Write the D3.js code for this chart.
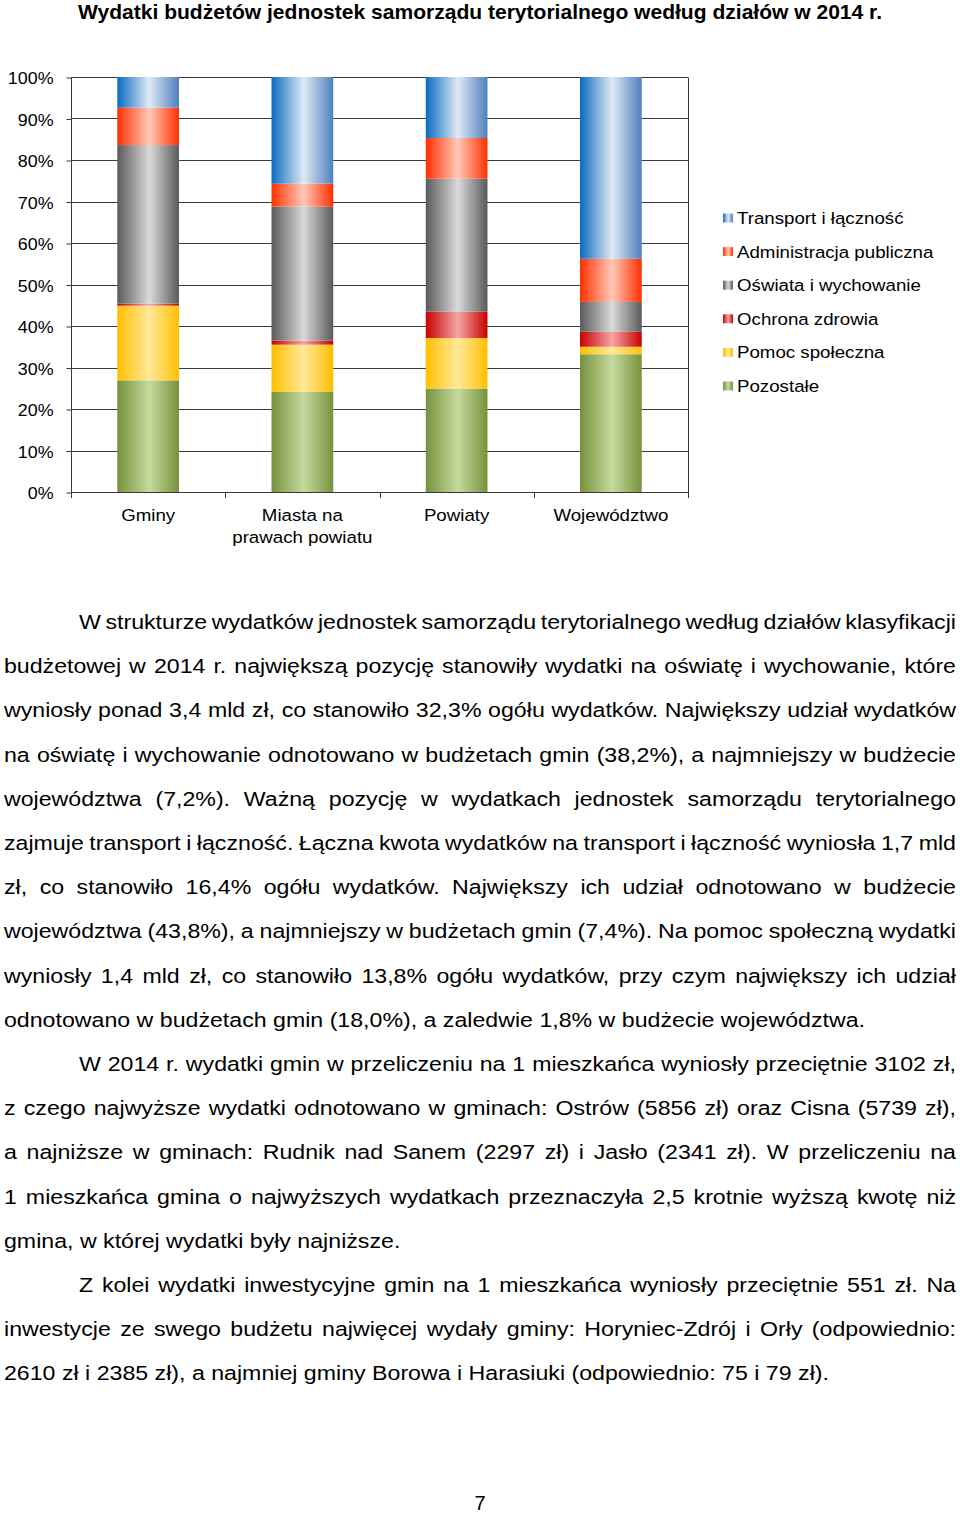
<!DOCTYPE html>
<html>
<head>
<meta charset="utf-8">
<script src="https://cdn.jsdelivr.net/npm/d3@7"></script>
<style>
  html, body { margin: 0; padding: 0; background: #fff; }
  svg { display: block; }
</style>
</head>
<body>
<svg id="page" width="960" height="1513"></svg>
<script>
// ---------------- DATA ----------------
const titleText = "Wydatki budżetów jednostek samorządu terytorialnego według działów w 2014 r.";
const categories = ["Gminy", "Miasta na prawach powiatu", "Powiaty", "Województwo"];
const categoryLabelLines = [["Gminy"], ["Miasta na", "prawach powiatu"], ["Powiaty"], ["Województwo"]];
const seriesNames = ["Pozostałe", "Pomoc społeczna", "Ochrona zdrowia", "Oświata i wychowanie", "Administracja publiczna", "Transport i łączność"];
const pozostale     = [26.9, 24.1, 24.9, 33.2];
const pomoc         = [18.0, 11.4, 12.2, 1.8];
const ochrona       = [0.5, 1.0, 6.4, 3.6];
const oswiata       = [38.2, 32.3, 32.0, 7.2];
const administracja = [9.0, 5.5, 9.8, 10.4];
const transport     = [7.4, 25.7, 14.7, 43.8];
const yTicks = [0, 10, 20, 30, 40, 50, 60, 70, 80, 90, 100];
const yTickLabels = ["0%", "10%", "20%", "30%", "40%", "50%", "60%", "70%", "80%", "90%", "100%"];

const bodyLines = [
  {t: "W strukturze wydatków jednostek samorządu terytorialnego według działów klasyfikacji", indent: true, last: false},
  {t: "budżetowej w 2014 r. największą pozycję stanowiły wydatki na oświatę i wychowanie, które", indent: false, last: false},
  {t: "wyniosły ponad 3,4 mld zł, co stanowiło 32,3% ogółu wydatków. Największy udział wydatków", indent: false, last: false},
  {t: "na oświatę i wychowanie odnotowano w budżetach gmin (38,2%), a najmniejszy w budżecie", indent: false, last: false},
  {t: "województwa (7,2%). Ważną pozycję w wydatkach jednostek samorządu terytorialnego", indent: false, last: false},
  {t: "zajmuje transport i łączność. Łączna kwota wydatków na transport i łączność wyniosła 1,7 mld", indent: false, last: false},
  {t: "zł, co stanowiło 16,4% ogółu wydatków. Największy ich udział odnotowano w budżecie", indent: false, last: false},
  {t: "województwa (43,8%), a najmniejszy w budżetach gmin (7,4%). Na pomoc społeczną wydatki", indent: false, last: false},
  {t: "wyniosły 1,4 mld zł, co stanowiło 13,8% ogółu wydatków, przy czym największy ich udział", indent: false, last: false},
  {t: "odnotowano w budżetach gmin (18,0%), a zaledwie 1,8% w budżecie województwa.", indent: false, last: true},
  {t: "W 2014 r. wydatki gmin w przeliczeniu na 1 mieszkańca wyniosły przeciętnie 3102 zł,", indent: true, last: false},
  {t: "z czego najwyższe wydatki odnotowano w gminach: Ostrów (5856 zł) oraz Cisna (5739 zł),", indent: false, last: false},
  {t: "a najniższe w gminach: Rudnik nad Sanem (2297 zł) i Jasło (2341 zł). W przeliczeniu na", indent: false, last: false},
  {t: "1 mieszkańca gmina o najwyższych wydatkach przeznaczyła 2,5 krotnie wyższą kwotę niż", indent: false, last: false},
  {t: "gmina, w której wydatki były najniższe.", indent: false, last: true},
  {t: "Z kolei wydatki inwestycyjne gmin na 1 mieszkańca wyniosły przeciętnie 551 zł. Na", indent: true, last: false},
  {t: "inwestycje ze swego budżetu najwięcej wydały gminy: Horyniec-Zdrój i Orły (odpowiednio:", indent: false, last: false},
  {t: "2610 zł i 2385 zł), a najmniej gminy Borowa i Harasiuki (odpowiednio: 75 i 79 zł).", indent: false, last: true}
];
const pageNumber = "7";

// ---------------- STYLE ----------------
const gradStops = {
  "Transport i łączność":    ["#0a6cc0", "#dfe9f5", "#4f7fbe"],
  "Administracja publiczna": ["#ff3000", "#ffc8b8", "#ff3000"],
  "Oświata i wychowanie":    ["#5a5a5a", "#dadada", "#5a5a5a"],
  "Ochrona zdrowia":         ["#c80000", "#f5a5a5", "#c80000"],
  "Pomoc społeczna":         ["#ffbf00", "#ffe89a", "#ffbf00"],
  "Pozostałe":               ["#76923c", "#c6da9e", "#76923c"]
};
const FONT = "'Liberation Sans', Arial, Helvetica, sans-serif";
const lineColor = "#3a3a3a";
const chartSX = 1.1;   // horizontal stretch of chart labels
const bodySX = 1.13;   // horizontal stretch of body text

const svg = d3.select("#page");
const defs = svg.append("defs");
seriesNames.forEach((name, i) => {
  const g = defs.append("linearGradient").attr("id", "grad" + i)
    .attr("x1", "0%").attr("x2", "100%").attr("y1", "0%").attr("y2", "0%");
  const c = gradStops[name];
  g.append("stop").attr("offset", "0%").attr("stop-color", c[0]);
  g.append("stop").attr("offset", "52%").attr("stop-color", c[1]);
  g.append("stop").attr("offset", "100%").attr("stop-color", c[2]);
});

// ---------------- TITLE ----------------
svg.append("text")
  .attr("x", 480).attr("y", 19)
  .attr("text-anchor", "middle")
  .attr("font-family", "'Liberation Sans Narrow', " + FONT)
  .attr("font-weight", "bold")
  .attr("font-size", 20.5)
  .attr("textLength", 804)
  .attr("lengthAdjust", "spacingAndGlyphs")
  .text(titleText);

// ---------------- CHART ----------------
const plot = {left: 71, right: 688, top: 77, bottom: 492};
const x = d3.scaleBand().domain(categories).range([plot.left, plot.right])
  .paddingInner(0.6).paddingOuter(0.3);
const y = d3.scaleLinear().domain([0, 100]).range([plot.bottom, plot.top]);

const seriesValues = [pozostale, pomoc, ochrona, oswiata, administracja, transport];
const table = categories.map((c, i) => {
  const row = {category: c};
  seriesNames.forEach((s, j) => row[s] = seriesValues[j][i]);
  return row;
});
const stacked = d3.stack().keys(seriesNames)(table);

const chart = svg.append("g");
// gridlines
chart.append("g").selectAll("line").data(yTicks).join("line")
  .attr("x1", plot.left).attr("x2", plot.right)
  .attr("y1", d => Math.round(y(d)) + 0.5).attr("y2", d => Math.round(y(d)) + 0.5)
  .attr("stroke", lineColor).attr("stroke-width", 1);
// right border
chart.append("line")
  .attr("x1", plot.right + 0.5).attr("x2", plot.right + 0.5)
  .attr("y1", plot.top + 0.5).attr("y2", plot.bottom + 0.5)
  .attr("stroke", lineColor);

// bars
stacked.forEach((layer, j) => {
  chart.append("g").attr("fill", `url(#grad${j})`)
    .selectAll("rect").data(layer).join("rect")
    .attr("x", d => x(d.data.category))
    .attr("width", x.bandwidth())
    .attr("y", d => y(d[1]))
    .attr("height", d => y(d[0]) - y(d[1]));
});

// y axis
const yAxis = d3.axisLeft(y).tickValues(yTicks)
  .tickFormat((d, i) => yTickLabels[i]).tickSize(5).tickPadding(0);
const yg = chart.append("g").attr("transform", `translate(${plot.left + 0.5},0.5)`).call(yAxis);
yg.select(".domain").attr("stroke", lineColor).attr("d", `M0,${plot.top}V${plot.bottom}`);
yg.selectAll(".tick line").attr("stroke", lineColor);
yg.selectAll(".tick text").attr("x", null)
  .attr("transform", "translate(-18,0) scale(1.05,1)")
  .attr("font-family", FONT).attr("font-size", 17).attr("fill", "#000")
  .attr("dy", "0.36em");

// x axis baseline + ticks at category boundaries
const boundaries = [plot.left].concat(categories.map(c => x(c) + x.bandwidth() / 2 + x.step() / 2));
chart.append("line")
  .attr("x1", plot.left).attr("x2", plot.right)
  .attr("y1", plot.bottom + 0.5).attr("y2", plot.bottom + 0.5)
  .attr("stroke", lineColor);
chart.append("g").selectAll("line").data(boundaries).join("line")
  .attr("x1", d => Math.round(d) + 0.5).attr("x2", d => Math.round(d) + 0.5)
  .attr("y1", plot.bottom).attr("y2", plot.bottom + 6)
  .attr("stroke", lineColor);

// category labels
categories.forEach((c, i) => {
  categoryLabelLines[i].forEach((ln, k) => {
    chart.append("text")
      .attr("transform", `translate(${x(c) + x.bandwidth() / 2},${521 + k * 22}) scale(${chartSX},1)`)
      .attr("text-anchor", "middle")
      .attr("font-family", FONT).attr("font-size", 17).attr("fill", "#000")
      .text(ln);
  });
});

// legend
const legendOrder = seriesNames.slice().reverse();
const lg = svg.append("g");
legendOrder.forEach((name, k) => {
  const j = seriesNames.indexOf(name);
  const cy = 218 + k * 33.6;
  lg.append("rect").attr("x", 723).attr("y", cy - 4.5).attr("width", 10).attr("height", 9)
    .attr("fill", `url(#grad${j})`);
  lg.append("text").attr("transform", `translate(737,${cy + 6}) scale(${chartSX},1)`)
    .attr("font-family", FONT).attr("font-size", 17).attr("fill", "#000").text(name);
});

// ---------------- BODY TEXT ----------------
const body = svg.append("g")
  .attr("transform", `scale(${bodySX},1)`)
  .attr("font-family", FONT).attr("font-size", 20.5).attr("fill", "#000");
const leftX = 4, rightX = 956, indentX = 79, baseY = 629, lineStep = 44.2;
bodyLines.forEach((ln, i) => {
  const startX = (ln.indent ? indentX : leftX) / bodySX;
  const endX = rightX / bodySX;
  const words = ln.t.split(" ");
  const t = body.append("text").attr("y", baseY + i * lineStep);
  const spans = words.map((w, k) => t.append("tspan").text(k < words.length - 1 ? w + " " : w));
  if (ln.last) {
    spans[0].attr("x", startX);
  } else {
    const widths = words.map((w, k) => {
      spans[k].text(w);
      return spans[k].node().getComputedTextLength();
    });
    const total = d3.sum(widths);
    const gap = (endX - startX - total) / (words.length - 1);
    let cx = startX;
    spans.forEach((s, k) => {
      s.attr("x", cx);
      cx += widths[k] + gap;
    });
  }
});

svg.append("text").attr("x", 480).attr("y", 1510).attr("text-anchor", "middle")
  .attr("font-family", FONT).attr("font-size", 20).text(pageNumber);
</script>
</body>
</html>
